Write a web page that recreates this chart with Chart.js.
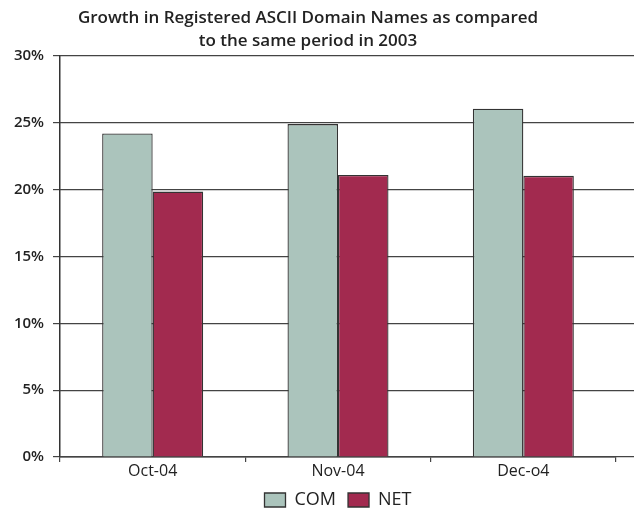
<!DOCTYPE html>
<html>
<head>
<meta charset="utf-8">
<script src="https://cdn.jsdelivr.net/npm/chart.js@4"></script>
<style>
  html, body { margin: 0; padding: 0; background: #fff; }
  #wrap { width: 634px; height: 512px; }
</style>
</head>
<body>
<div id="wrap"><canvas id="myChart" width="634" height="512"></canvas></div>
<script>
var months = ["Oct-04", "Nov-04", "Dec-o4"];
var comValues = [24.2, 24.9, 26.05];
var netValues = [19.85, 21.1, 21.03];
var yTicks = [0, 5, 10, 15, 20, 25, 30];

var barColors = {
    com: "#abc4bc",
    net: "#a22a4f"
};

// horizontal grid lines run from the y axis to the right edge of the picture
var fullGrid = {
    id: 'fullGrid',
    beforeDatasetsDraw: function (chart) {
        var ctx = chart.ctx;
        var area = chart.chartArea;
        var y = chart.scales.y;
        var w = 1.2;
        ctx.save();
        ctx.strokeStyle = '#444';
        ctx.lineWidth = w;
        yTicks.forEach(function (v) {
            var py = Math.round(y.getPixelForValue(v) - w / 2) + w / 2;
            ctx.beginPath();
            ctx.moveTo(area.left, py);
            ctx.lineTo(chart.width, py);
            ctx.stroke();
        });
        ctx.restore();
    }
};

Chart.defaults.font.family = "'Open Sans', sans-serif";
Chart.defaults.color = "#222";

new Chart("myChart", {
    type: "bar",
    data: {
        labels: months,
        datasets: [{
            label: "COM",
            data: comValues,
            backgroundColor: barColors.com,
            borderColor: "#333",
            borderWidth: 1.3
        }, {
            label: "NET",
            data: netValues,
            backgroundColor: barColors.net,
            borderColor: "#333",
            borderWidth: 1.3
        }]
    },
    plugins: [fullGrid],
    options: {
        responsive: false,
        animation: false,
        layout: { padding: { left: 0, right: 18, top: 5, bottom: -7 } },
        datasets: {
            bar: { categoryPercentage: 0.545, barPercentage: 1 }
        },
        plugins: {
            title: {
                display: true,
                text: ["Growth in Registered ASCII Domain Names as compared", "to the same period in 2003"],
                font: { size: 17, weight: '600', lineHeight: 1.35 },
                color: "#222",
                padding: { top: 2, bottom: 3 }
            },
            legend: {
                position: "bottom",
                fullSize: false,
                labels: {
                    boxWidth: 21,
                    boxHeight: 14,
                    padding: 12,
                    font: { size: 18, weight: '500' },
                    color: "#222"
                }
            },
            tooltip: { enabled: false }
        },
        scales: {
            x: {
                afterFit: function (axis) { axis.height = 22; },
                grid: {
                    drawOnChartArea: false,
                    drawTicks: true,
                    tickLength: 5,
                    color: "#444",
                    lineWidth: 1.2
                },
                border: { color: "#333", width: 1.5 },
                ticks: { font: { size: 16, weight: '500' }, color: "#222", padding: 0 }
            },
            y: {
                min: 0,
                max: 30,
                afterBuildTicks: function (axis) {
                    axis.ticks = yTicks.map(function (v) { return { value: v }; });
                },
                afterFit: function (axis) { axis.width = 60; },
                grid: {
                    drawOnChartArea: false,
                    color: "#444",
                    lineWidth: 1.2,
                    tickLength: 7
                },
                border: { color: "#333", width: 1.5 },
                ticks: {
                    font: { size: 15, weight: '600' },
                    color: "#222",
                    padding: 9,
                    callback: function (v) { return v + "%"; }
                }
            }
        }
    }
});
</script>
</body>
</html>
